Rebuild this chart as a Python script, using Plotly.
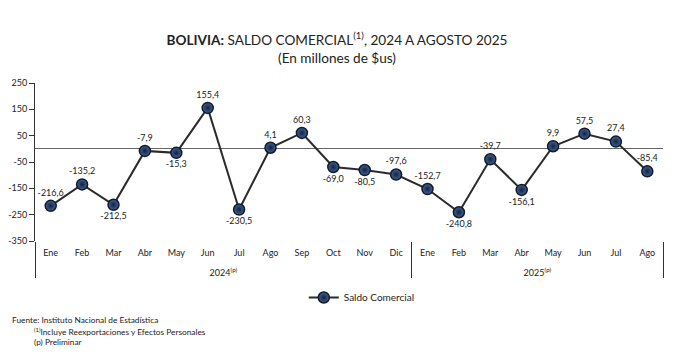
import plotly.graph_objects as go

months = ["Ene", "Feb", "Mar", "Abr", "May", "Jun", "Jul", "Ago", "Sep", "Oct", "Nov", "Dic",
          "Ene", "Feb", "Mar", "Abr", "May", "Jun", "Jul", "Ago"]
years = ["<br>2024<sup>(p)</sup>"] * 12 + ["<br>2025<sup>(p)</sup>"] * 8
values = [-216.6, -135.2, -212.5, -7.9, -15.3, 155.4, -230.5, 4.1, 60.3, -69.0, -80.5, -97.6,
          -152.7, -240.8, -39.7, -156.1, 9.9, 57.5, 27.4, -85.4]
label_pos = ["top center", "top center", "bottom center", "top center", "bottom center",
             "top center", "bottom center", "top center", "top center", "bottom center",
             "bottom center", "top center", "top center", "bottom center", "top center",
             "bottom center", "top center", "top center", "top center", "top center"]
y_ticks = [250, 150, 50, -50, -150, -250, -350]

labels = [f"{v:.1f}".replace(".", ",") for v in values]
FONT = "Lato"

# page body adds an 8px offset; figure is laid out in 668x347
W, H = 668, 347
L, T, PW, PH = 27, 75, 628, 158

fig = go.Figure()
fig.add_trace(go.Scatter(
    x=[years, months], y=values, mode="lines+markers+text",
    name="Saldo Comercial",
    text=labels, textposition=label_pos,
    textfont=dict(family=FONT, size=9, color="#222"),
    line=dict(color="#2b2b2b", width=2),
    marker=dict(size=11, color="#41639a",
                gradient=dict(type="radial", color="#14223a"),
                line=dict(color="#101a2c", width=1.5)),
    cliponaxis=False,
))

fig.update_layout(
    width=W, height=H,
    margin=dict(l=L, r=W - L - PW, t=T, b=H - T - PH),
    paper_bgcolor="white", plot_bgcolor="white",
    font=dict(family=FONT, size=9, color="#222"),
    title=dict(
        text="<b>BOLIVIA:</b> SALDO COMERCIAL<sup>(1)</sup>, 2024 A AGOSTO 2025<br>(En millones de $us)",
        x=329 / W, xanchor="center", xref="container",
        y=1 - 37 / H, yanchor="top", yref="container",
        font=dict(family=FONT, size=13.6, color="#222"),
    ),
    showlegend=True,
    legend=dict(orientation="h", x=0.428, xanchor="left", y=-42 / PH, yanchor="top",
                font=dict(family=FONT, size=10, color="#222"), bgcolor="rgba(0,0,0,0)"),
)
fig.update_xaxes(
    type="multicategory", range=[-0.5, 19.5], automargin=False,
    showgrid=False, showline=False, ticks="", ticklabelstandoff=5,
    showdividers=True, dividercolor="#333", dividerwidth=1,
    tickfont=dict(family=FONT, size=9, color="#222"),
)
fig.update_yaxes(
    range=[-350, 250], automargin=False, tickvals=y_ticks, ticktext=[str(t) for t in y_ticks],
    showgrid=False, showline=True, linecolor="#333", linewidth=1,
    ticks="outside", ticklen=5, tickcolor="#333",
    zeroline=True, zerolinecolor="#666", zerolinewidth=1,
    tickfont=dict(family=FONT, size=9, color="#222"),
)

notes = [
    ("Fuente: Instituto Nacional de Estadística", 2, 312),
    ("<sup>(1)</sup>Incluye Reexportaciones y Efectos Personales", 24, 323),
    ("(p) Preliminar", 24, 334),
]
for txt, px, py in notes:
    fig.add_annotation(text=txt, xref="paper", yref="paper",
                       x=(px - L) / PW, y=-(py - (T + PH)) / PH,
                       xanchor="left", yanchor="middle", showarrow=False,
                       font=dict(family=FONT, size=8.3, color="#222"))

fig.write_html("out.html")
